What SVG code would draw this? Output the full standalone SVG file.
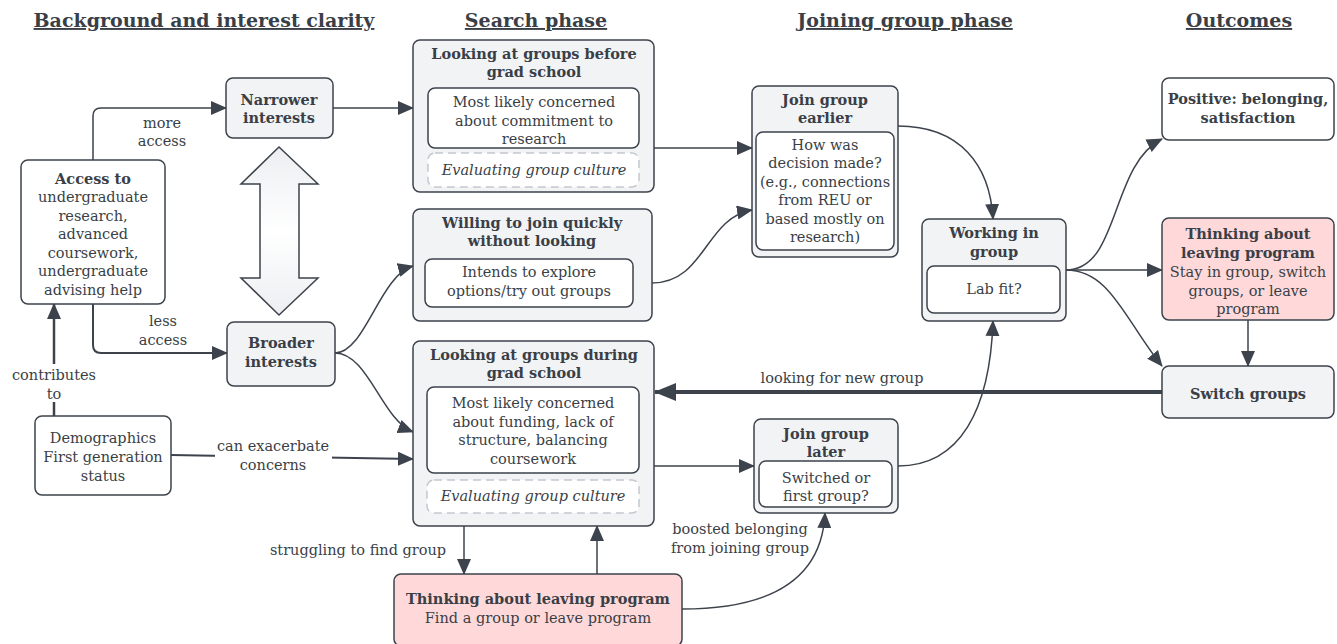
<svg xmlns="http://www.w3.org/2000/svg" width="1337" height="644" viewBox="0 0 1337 644">
<defs>
<style>
text{font-family:"DejaVu Serif","Liberation Serif",serif;fill:#3a3f47;text-anchor:middle;font-size:14.5px}
.b{font-weight:bold}
.i{font-style:italic}
.h{font-size:19px;font-weight:bold;text-decoration:underline}
.g{fill:#f2f3f5;stroke:#3d434c;stroke-width:1.5}
.w{fill:#ffffff;stroke:#3d434c;stroke-width:1.5}
.p{fill:#ffd9d9;stroke:#3d434c;stroke-width:1.5}
.d{fill:#ffffff;stroke:#c4c8cf;stroke-width:1.5;stroke-dasharray:8 5}
.c{fill:none;stroke:#3d434c;stroke-width:1.5}
.lb{fill:#ffffff}
</style>
<marker id="ah" markerUnits="userSpaceOnUse" markerWidth="16" markerHeight="14" refX="15" refY="7" orient="auto">
<path d="M0,0 L16,7 L0,14 Z" fill="#3d434c"/>
</marker>
<marker id="ahb" markerUnits="userSpaceOnUse" markerWidth="22" markerHeight="18" refX="21" refY="9" orient="auto">
<path d="M0,0 L22,9 L0,18 Z" fill="#3d434c"/>
</marker>
<linearGradient id="gr" x1="0" y1="0" x2="0" y2="1">
<stop offset="0" stop-color="#eceef1"/>
<stop offset="0.5" stop-color="#ffffff"/>
<stop offset="1" stop-color="#eceef1"/>
</linearGradient>
</defs>
<rect width="1337" height="644" fill="#ffffff"/>

<g id="headers">
<text class="h" x="204" y="27">Background and interest clarity</text>
<text class="h" x="536" y="27">Search phase</text>
<text class="h" x="905" y="27">Joining group phase</text>
<text class="h" x="1239" y="27">Outcomes</text>
</g>

<g id="connectors">
<path class="c" d="M93,160 V116 Q93,108 101,108 H226" marker-end="url(#ah)"/>
<path class="c" style="stroke-width:2" d="M93,304 V345 Q93,353 101,353 H227" marker-end="url(#ah)"/>
<path class="c" style="stroke-width:2.5" d="M54,416 V304" marker-end="url(#ah)"/>
<path class="c" style="stroke-width:2" d="M171,455 L413,459" marker-end="url(#ah)"/>
<path class="c" d="M333,108 H413" marker-end="url(#ah)"/>
<path class="c" d="M335,353 C365,353 380,275 413,266" marker-end="url(#ah)"/>
<path class="c" d="M335,353 C368,353 382,420 413,432" marker-end="url(#ah)"/>
<path class="c" d="M654,148 H752" marker-end="url(#ah)"/>
<path class="c" d="M652,283 C705,283 705,218 752,210" marker-end="url(#ah)"/>
<path class="c" d="M654,466 H754" marker-end="url(#ah)"/>
<path class="c" d="M898,126 C960,126 990,165 993,219" marker-end="url(#ah)"/>
<path class="c" d="M898,466 C960,466 990,410 993,321" marker-end="url(#ah)"/>
<path class="c" d="M1066,270 C1120,270 1110,165 1162,139" marker-end="url(#ah)"/>
<path class="c" d="M1066,270 H1162" marker-end="url(#ah)"/>
<path class="c" d="M1066,270 C1110,270 1125,320 1162,366" marker-end="url(#ah)"/>
<path class="c" d="M1248,320 V366" marker-end="url(#ah)"/>
<path class="c" style="stroke-width:4" d="M1162,392 H655" marker-end="url(#ahb)"/>
<path class="c" d="M464,526 V574" marker-end="url(#ah)"/>
<path class="c" d="M597,574 V526" marker-end="url(#ah)"/>
<path class="c" d="M682,609 C770,609 822,580 825,513" marker-end="url(#ah)"/>
</g>

<g id="connector-labels">
<text x="162" y="128">more</text>
<text x="162" y="146">access</text>
<text x="163" y="326">less</text>
<text x="163" y="345">access</text>
<rect class="lb" x="8" y="364" width="94" height="38"/>
<text x="54" y="380">contributes</text>
<text x="54" y="399">to</text>
<rect class="lb" x="215" y="435" width="117" height="38"/>
<text x="273" y="451">can exacerbate</text>
<text x="273" y="470">concerns</text>
<text x="842" y="383">looking for new group</text>
<text x="358" y="555">struggling to find group</text>
<text x="740" y="534">boosted belonging</text>
<text x="740" y="553">from joining group</text>
</g>

<g id="double-arrow">
<polygon points="279,147 318,184 299,184 299,278 318,278 279,315 241,278 260,278 260,184 241,184" fill="url(#gr)" stroke="#3d434c" stroke-width="1.5" stroke-linejoin="miter"/>
</g>

<g id="access">
<rect class="w" x="21" y="160" width="144" height="144" rx="7"/>
<text class="b" x="93" y="184">Access to</text>
<text x="93" y="202">undergraduate</text>
<text x="93" y="221">research,</text>
<text x="93" y="239">advanced</text>
<text x="93" y="258">coursework,</text>
<text x="93" y="276">undergraduate</text>
<text x="93" y="295">advising help</text>
</g>

<g id="narrower">
<rect class="g" x="226" y="78" width="107" height="60" rx="7"/>
<text class="b" x="279" y="105">Narrower</text>
<text class="b" x="279" y="123">interests</text>
</g>

<g id="broader">
<rect class="g" x="227" y="322" width="108" height="64" rx="7"/>
<text class="b" x="281" y="348">Broader</text>
<text class="b" x="281" y="367">interests</text>
</g>

<g id="demographics">
<rect class="w" x="35" y="416" width="136" height="79" rx="7"/>
<text x="103" y="443">Demographics</text>
<text x="103" y="462">First generation</text>
<text x="103" y="481">status</text>
</g>

<g id="before">
<rect class="g" x="413" y="40" width="241" height="152" rx="7"/>
<text class="b" x="534" y="59">Looking at groups before</text>
<text class="b" x="534" y="77">grad school</text>
<rect class="w" x="428" y="88" width="211" height="60" rx="7"/>
<text x="534" y="107">Most likely concerned</text>
<text x="534" y="126">about commitment to</text>
<text x="534" y="144">research</text>
<rect class="d" x="428" y="153" width="211" height="34" rx="7"/>
<text class="i" x="534" y="175">Evaluating group culture</text>
</g>

<g id="willing">
<rect class="g" x="413" y="209" width="239" height="112" rx="7"/>
<text class="b" x="532" y="228">Willing to join quickly</text>
<text class="b" x="532" y="246">without looking</text>
<rect class="w" x="425" y="259" width="208" height="48" rx="7"/>
<text x="529" y="277">Intends to explore</text>
<text x="529" y="296">options/try out groups</text>
</g>

<g id="during">
<rect class="g" x="413" y="341" width="241" height="185" rx="7"/>
<text class="b" x="534" y="360">Looking at groups during</text>
<text class="b" x="534" y="378">grad school</text>
<rect class="w" x="427" y="387" width="212" height="86" rx="7"/>
<text x="533" y="408">Most likely concerned</text>
<text x="533" y="427">about funding, lack of</text>
<text x="533" y="445">structure, balancing</text>
<text x="533" y="464">coursework</text>
<rect class="d" x="427" y="480" width="212" height="33" rx="7"/>
<text class="i" x="533" y="501">Evaluating group culture</text>
</g>

<g id="leaving-bottom">
<rect class="p" x="394" y="574" width="288" height="72" rx="7"/>
<text class="b" x="538" y="604">Thinking about leaving program</text>
<text x="538" y="623">Find a group or leave program</text>
</g>

<g id="join-earlier">
<rect class="g" x="752" y="86" width="146" height="171" rx="7"/>
<text class="b" x="825" y="105">Join group</text>
<text class="b" x="825" y="123">earlier</text>
<rect class="w" x="756" y="132" width="138" height="118" rx="7"/>
<text x="825" y="150">How was</text>
<text x="825" y="168">decision made?</text>
<text x="825" y="187">(e.g., connections</text>
<text x="825" y="205">from REU or</text>
<text x="825" y="224">based mostly on</text>
<text x="825" y="242">research)</text>
</g>

<g id="join-later">
<rect class="g" x="754" y="419" width="144" height="94" rx="7"/>
<text class="b" x="826" y="439">Join group</text>
<text class="b" x="826" y="457">later</text>
<rect class="w" x="759" y="461" width="133" height="46" rx="7"/>
<text x="826" y="483">Switched or</text>
<text x="826" y="501">first group?</text>
</g>

<g id="working">
<rect class="g" x="922" y="219" width="144" height="102" rx="7"/>
<text class="b" x="994" y="238">Working in</text>
<text class="b" x="994" y="257">group</text>
<rect class="w" x="927" y="266" width="133" height="47" rx="7"/>
<text x="994" y="294">Lab fit?</text>
</g>

<g id="positive">
<rect class="w" x="1162" y="78" width="172" height="62" rx="7"/>
<text class="b" x="1248" y="104">Positive: belonging,</text>
<text class="b" x="1248" y="123">satisfaction</text>
</g>

<g id="leaving-right">
<rect class="p" x="1162" y="218" width="172" height="102" rx="7"/>
<text class="b" x="1248" y="239">Thinking about</text>
<text class="b" x="1248" y="258">leaving program</text>
<text x="1248" y="277">Stay in group, switch</text>
<text x="1248" y="296">groups, or leave</text>
<text x="1248" y="314">program</text>
</g>

<g id="switch">
<rect class="g" x="1162" y="366" width="172" height="52" rx="7"/>
<text class="b" x="1248" y="399">Switch groups</text>
</g>
</svg>
